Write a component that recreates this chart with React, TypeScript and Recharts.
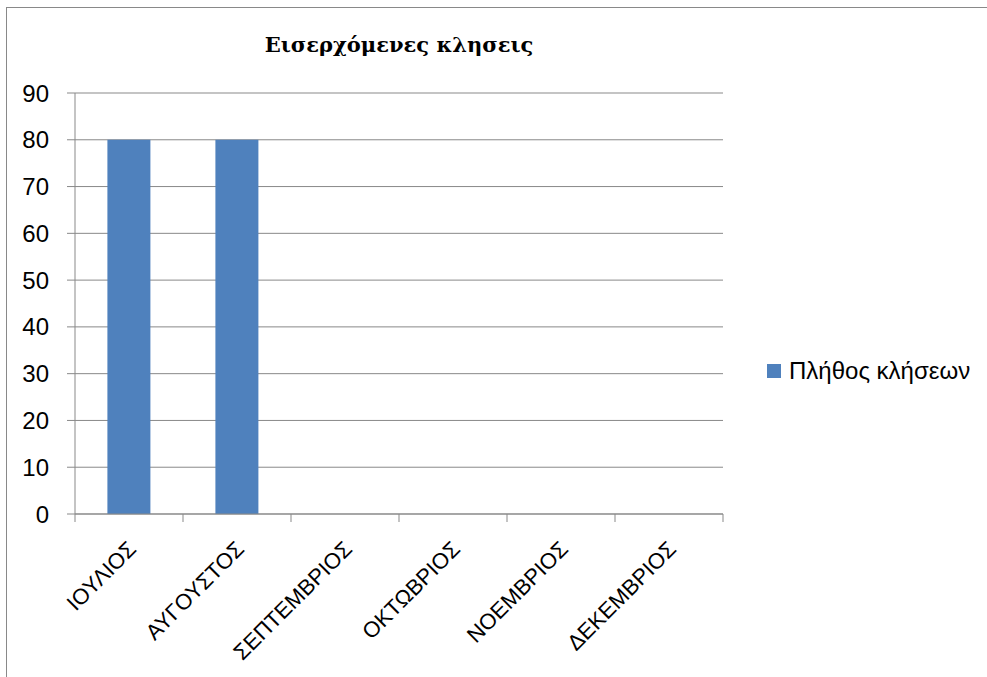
import { BarChart, Bar, XAxis, YAxis, CartesianGrid, Legend } from 'recharts'

const months = ['ΙΟΥΛΙΟΣ', 'ΑΥΓΟΥΣΤΟΣ', 'ΣΕΠΤΕΜΒΡΙΟΣ', 'ΟΚΤΩΒΡΙΟΣ', 'ΝΟΕΜΒΡΙΟΣ', 'ΔΕΚΕΜΒΡΙΟΣ']
const calls = [80, 80, null, null, null, null]
const yTicks = [0, 10, 20, 30, 40, 50, 60, 70, 80, 90]
const seriesName = 'Πλήθος κλήσεων'
const title = 'Εισερχόμενες κλησεις'

const data = months.map((m, i) => ({ month: m, calls: calls[i] }))

const W = 987
const H = 677
const AXIS_W = 75
const RIGHT = 264
const X_AXIS_H = 163
const TOP = 93
const PLOT_W = W - AXIS_W - RIGHT
const HALF_BAND = PLOT_W / months.length / 2

const GRID = '#898989'
const BAR = '#4F81BD'
const SANS = '"Liberation Sans", Arial, sans-serif'

function MonthTick(props: any) {
  const { x, y, payload, index } = props
  const last = index === months.length - 1
  const ax = x + 3
  const ay = y + 31
  return (
    <g>
      <line x1={x - HALF_BAND} y1={y} x2={x - HALF_BAND} y2={y + 8} stroke={GRID} />
      {last && <line x1={x + HALF_BAND} y1={y} x2={x + HALF_BAND} y2={y + 8} stroke={GRID} />}
      <text
        x={ax}
        y={ay}
        dy="0.35em"
        textAnchor="end"
        fontFamily={SANS}
        fontSize={22}
        fill="#000"
        transform={`rotate(-45, ${ax}, ${ay})`}
      >
        {payload.value}
      </text>
    </g>
  )
}

function LegendBox(props: any) {
  const { payload } = props
  return (
    <div>
      {(payload || []).map((p: any) => (
        <div key={p.value} style={{ display: 'flex', alignItems: 'center', fontFamily: SANS, fontSize: 24, color: '#000' }}>
          <span style={{ display: 'inline-block', width: 14, height: 14, background: p.color, marginRight: 8 }} />
          <span>{p.value}</span>
        </div>
      ))}
    </div>
  )
}

export default function App() {
  return (
    <div style={{ position: 'absolute', left: 0, top: 0, width: W, height: H, overflow: 'hidden', background: '#fff' }}>
      {/* chart frame, runs off the right and bottom like the screenshot */}
      <div style={{ position: 'absolute', left: 6, top: 7, width: 1100, height: 800, border: `1px solid ${GRID}` }} />
      <div
        style={{
          position: 'absolute',
          left: AXIS_W + PLOT_W / 2,
          top: 34,
          transform: 'translateX(-50%)',
          whiteSpace: 'nowrap',
          fontFamily: '"DejaVu Serif", "Liberation Serif", serif',
          fontWeight: 'bold',
          fontSize: 21,
          lineHeight: '21px',
          color: '#000',
        }}
      >
        {title}
      </div>
      <div style={{ position: 'absolute', left: 0, top: 0 }}>
        <BarChart width={W} height={H} data={data} margin={{ top: TOP, right: RIGHT, bottom: 0, left: 0 }} barCategoryGap="30%">
          <CartesianGrid vertical={false} stroke={GRID} strokeWidth={1} />
          <XAxis
            dataKey="month"
            height={X_AXIS_H}
            axisLine={{ stroke: GRID }}
            tickLine={false}
            tickSize={0}
            tickMargin={0}
            interval={0}
            tick={<MonthTick />}
          />
          <YAxis
            width={AXIS_W}
            domain={[0, 90]}
            ticks={yTicks}
            axisLine={{ stroke: GRID }}
            tickLine={{ stroke: GRID }}
            tickSize={8}
            tickMargin={18}
            tick={{ fill: '#000', fontFamily: SANS, fontSize: 24 }}
          />
          <Legend
            layout="horizontal"
            verticalAlign="middle"
            align="center"
            wrapperStyle={{ left: 767, top: 357, width: 220 }}
            content={<LegendBox />}
          />
          <Bar dataKey="calls" name={seriesName} fill={BAR} isAnimationActive={false} />
        </BarChart>
      </div>
    </div>
  )
}
